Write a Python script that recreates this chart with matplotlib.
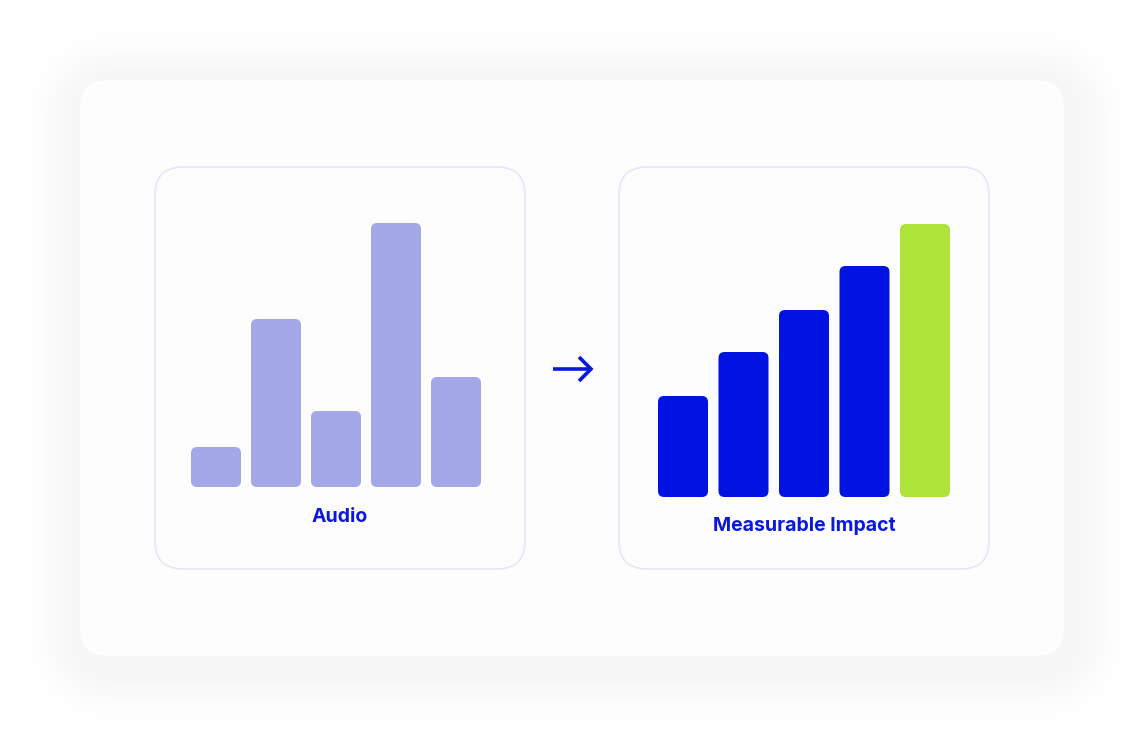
import matplotlib as mpl
mpl.use('Agg')
import matplotlib.pyplot as plt
from matplotlib.patches import FancyBboxPatch
import numpy as np

# chart data (bar heights, px units of the original)
audio_vals = [40, 168, 76, 264, 110]
impact_vals = [101, 145, 187, 231, 273]
audio_label = 'Audio'
impact_label = 'Measurable Impact'

audio_color = '#a5a8e8'
impact_colors = ['#0113e1', '#0113e1', '#0113e1', '#0113e1', '#aee33a']
text_color = '#0a18df'

W, H = 1144, 736

fig = plt.figure(figsize=(W / 100, H / 100), dpi=100)
ax = fig.add_axes([0, 0, 1, 1])
ax.set_xlim(0, W)
ax.set_ylim(0, H)
ax.axis('off')
fig.patch.set_facecolor('white')


def rounded(x0, y0, w, h, r, **kw):
    p = FancyBboxPatch((x0, y0), w, h,
                       boxstyle='round,pad=0,rounding_size=%s' % r, **kw)
    ax.add_patch(p)
    return p


# soft shadow behind the outer card
cx0, cx1, cy0, cy1, cr = 80, 1064, H - 656, H - 80, 27
yy, xx = np.mgrid[0:H, 0:W] + 0.5
qx = np.abs(xx - (cx0 + cx1) / 2 - 4) - ((cx1 - cx0) / 2 - cr)
qy = np.abs(yy - (cy0 + cy1) / 2 + 8) - ((cy1 - cy0) / 2 - cr)
dist = np.hypot(np.maximum(qx, 0), np.maximum(qy, 0)) + \
    np.minimum(np.maximum(qx, qy), 0) - cr
alpha = 0.038 * np.exp(-(np.maximum(dist, 0) / 40.0) ** 2)
shadow = np.zeros((H, W, 4))
shadow[..., 3] = alpha
ax.imshow(shadow, extent=(0, W, 0, H), origin='lower', zorder=0,
          interpolation='bilinear')

# outer card
rounded(cx0, cy0, cx1 - cx0, cy1 - cy0, cr, facecolor='#fdfdfd',
        edgecolor='none', zorder=1)

# inner panels
for px in [155, 619]:
    rounded(px, H - 569, 370, 402, 28, facecolor='#fdfdfe',
            edgecolor='#e5e5fa', linewidth=1.2, zorder=2)


def draw_bars(vals, colors, left, base, step=60, width=50):
    xs = [left + width / 2 + i * step for i in range(len(vals))]
    bars = ax.bar(xs, vals, width=width, bottom=base, color=colors)
    for b in bars:
        rounded(b.get_x(), b.get_y(), b.get_width(), b.get_height(), 6,
                facecolor=b.get_facecolor(), edgecolor='none', zorder=3)
        b.remove()


draw_bars(audio_vals, audio_color, 191, H - 487)
draw_bars(impact_vals, impact_colors, 658, H - 497, step=60.5)

ax.text(340, H - 522, audio_label, ha='center', va='baseline',
        fontsize=14, fontweight='bold', family=['Inter', 'DejaVu Sans'],
        color=text_color, zorder=4)
ax.text(804, H - 531, impact_label, ha='center', va='baseline',
        fontsize=14, fontweight='bold', family=['Inter', 'DejaVu Sans'],
        color=text_color, zorder=4)

# arrow between panels
ay = H - 369
ax.plot([553, 590], [ay, ay], color=text_color, lw=2.6,
        solid_capstyle='butt', zorder=4)
ax.plot([579, 591, 579], [ay + 12, ay, ay - 12], color=text_color, lw=2.6,
        solid_joinstyle='miter', solid_capstyle='butt', zorder=4)

fig.savefig('out.png', dpi=100, facecolor='white')
